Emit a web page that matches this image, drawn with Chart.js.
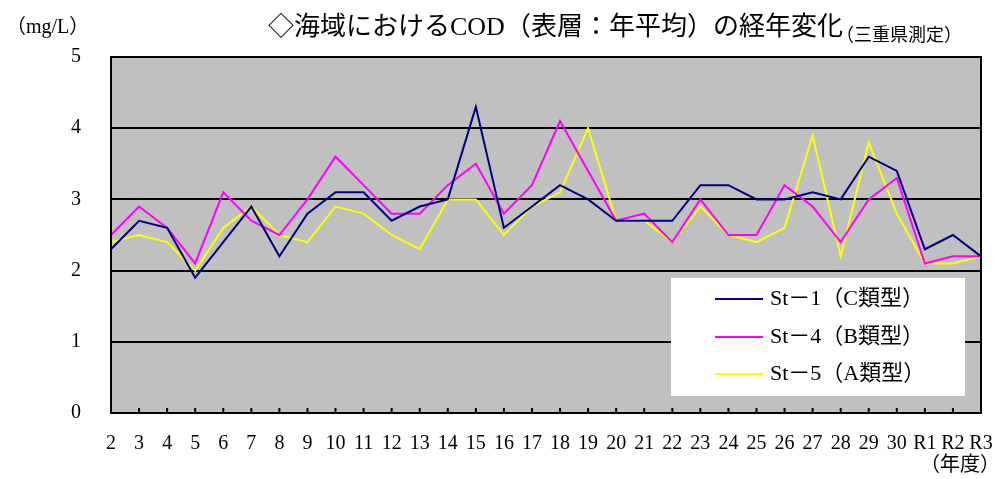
<!DOCTYPE html>
<html><head><meta charset="utf-8">
<script src="https://cdn.jsdelivr.net/npm/chart.js@4.4.1/dist/chart.umd.min.js"></script>
<style>html,body{margin:0;padding:0;background:#fff}#wrap{width:1002px;height:479px;position:relative}</style>
</head><body><div id="wrap"><canvas id="c" width="1002" height="479"></canvas></div>
<script>
const years = ['2','3','4','5','6','7','8','9','10','11','12','13','14','15','16','17','18','19','20','21','22','23','24','25','26','27','28','29','30','R1','R2','R3'];
const st1 = [2.3,2.7,2.6,1.9,2.4,2.9,2.2,2.8,3.1,3.1,2.7,2.9,3.0,4.3,2.6,2.9,3.2,3.0,2.7,2.7,2.7,3.2,3.2,3.0,3.0,3.1,3.0,3.6,3.4,2.3,2.5,2.2];
const st4 = [2.5,2.9,2.6,2.1,3.1,2.7,2.5,3.0,3.6,3.2,2.8,2.8,3.2,3.5,2.8,3.2,4.1,3.4,2.7,2.8,2.4,3.0,2.5,2.5,3.2,2.9,2.4,3.0,3.3,2.1,2.2,2.2];
const st5 = [2.4,2.5,2.4,2.0,2.6,2.9,2.5,2.4,2.9,2.8,2.5,2.3,3.0,3.0,2.5,2.9,3.1,4.0,2.7,2.7,2.4,2.9,2.5,2.4,2.6,3.9,2.2,3.8,2.8,2.1,2.1,2.2];
const seriesNames = ['St－1（C類型）','St－4（B類型）','St－5（A類型）'];
const yTicks = [0,1,2,3,4,5];
const titleText = '◇海域におけるCOD（表層：年平均）の経年変化';
const subTitleText = '（三重県測定）';
const yUnit = '（mg/L）';
const xUnit = '（年度）';

const SERIF = '"Liberation Serif","Noto Sans CJK JP",serif';
const colors = ['#000080','#FF00FF','#FFFF00'];

const deco = {
  id:'deco',
  beforeDraw(chart){
    const {ctx, chartArea:a} = chart;
    ctx.save();
    ctx.fillStyle='#C0C0C0';
    ctx.fillRect(a.left,a.top,a.right-a.left,a.bottom-a.top);
    ctx.restore();
  },
  afterDatasetsDraw(chart){
    const {ctx, chartArea:a, scales} = chart;
    ctx.save();
    ctx.strokeStyle='#000'; ctx.lineWidth=2;
    ctx.strokeRect(a.left,a.top,a.right-a.left,a.bottom-a.top);
    years.forEach((y,i)=>{
      const x = scales.x.getPixelForValue(i);
      ctx.beginPath(); ctx.moveTo(x,a.bottom-5); ctx.lineTo(x,a.bottom); ctx.stroke();
    });
    const lx=671, ly=278, lw=294, lh=118;
    ctx.fillStyle='#fff'; ctx.fillRect(lx,ly,lw,lh);
    ctx.font='22px '+SERIF; ctx.textBaseline='middle'; ctx.textAlign='left';
    const rows=[299,337,374];
    chart.data.datasets.forEach((ds,i)=>{
      ctx.strokeStyle=ds.borderColor; ctx.lineWidth=2;
      ctx.beginPath(); ctx.moveTo(715,rows[i]); ctx.lineTo(763,rows[i]); ctx.stroke();
      ctx.fillStyle='#000'; ctx.fillText(ds.label,770,rows[i]);
    });
    ctx.fillStyle='#000';
    ctx.font='18px '+SERIF; ctx.textAlign='left';
    ctx.fillText(subTitleText,836,36);
    ctx.font='26px '+SERIF;
    ctx.fillText(titleText,268,28);
    ctx.font='20px '+SERIF;
    ctx.fillText(yUnit,6,28);
    ctx.textAlign='right';
    ctx.fillText(xUnit,1000,466);
    ctx.restore();
  }
};

new Chart(document.getElementById('c'),{
  type:'line',
  data:{
    labels:years,
    datasets:[st1,st4,st5].map((d,i)=>({
      label:seriesNames[i], data:d, borderColor:colors[i], backgroundColor:colors[i],
      borderWidth:2, pointRadius:0, tension:0, fill:false
    }))
  },
  options:{
    responsive:false, animation:false,
    layout:{padding:{left:0,right:21,top:57,bottom:0}},
    plugins:{legend:{display:false},tooltip:{enabled:false},title:{display:false}},
    scales:{
      x:{
        offset:false,
        grid:{display:false,drawTicks:false},
        border:{display:true,color:'#000',width:2},
        ticks:{autoSkip:false,maxRotation:0,minRotation:0,color:'#000',padding:19,font:{family:SERIF,size:20}},
        afterFit(s){s.height=66; s.paddingLeft=0; s.paddingRight=0;}
      },
      y:{
        min:0,max:5,
        afterBuildTicks(s){s.ticks=yTicks.map(v=>({value:v}));},
        grid:{color:'#000',lineWidth:2,drawTicks:false},
        border:{display:true,color:'#000',width:2},
        ticks:{color:'#000',padding:30,font:{family:SERIF,size:20}},
        afterFit(s){s.width=111; s.paddingTop=0; s.paddingBottom=0;}
      }
    }
  },
  plugins:[deco]
});
</script></body></html>
